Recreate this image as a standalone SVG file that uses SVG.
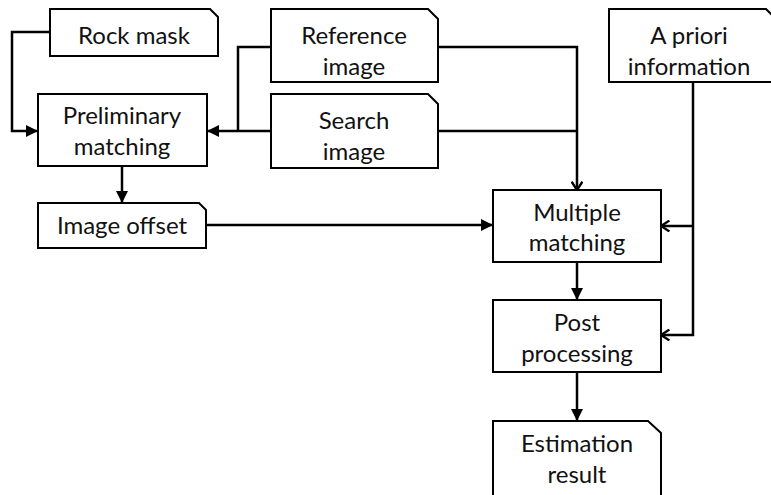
<svg xmlns="http://www.w3.org/2000/svg" width="771" height="495" viewBox="0 0 771 495">
<style>
.box{fill:#fff;stroke:#000;stroke-width:2}
.t{font-family:Lato,"Liberation Sans",sans-serif;font-size:24px;fill:#111;text-anchor:middle}
.c{fill:none;stroke:#000;stroke-width:2.5}
</style>
<defs>
<marker id="fa" viewBox="0 0 10 10" refX="10" refY="5" markerWidth="12" markerHeight="12" markerUnits="userSpaceOnUse" orient="auto"><path d="M0,0L10,5L0,10Z" fill="#000"/></marker>
<marker id="oa" viewBox="0 0 10 10" refX="9" refY="5" markerWidth="12" markerHeight="12" markerUnits="userSpaceOnUse" orient="auto"><path d="M2,0.5L9,5L2,9.5" fill="none" stroke="#000" stroke-width="2"/></marker>
</defs>
<rect width="771" height="495" fill="#fff"/>
<g id="connectors">
<path class="c" d="M50,32H12V131H38" marker-end="url(#fa)"/>
<path class="c" d="M271,47H238V131"/>
<path class="c" d="M271,131H207" marker-end="url(#fa)"/>
<path class="c" d="M122,166V203" marker-end="url(#fa)"/>
<path class="c" d="M206,225H493" marker-end="url(#fa)"/>
<path class="c" d="M438,47H577V190" marker-end="url(#oa)"/>
<path class="c" d="M438,131H577"/>
<path class="c" d="M693,82V335H661" marker-end="url(#oa)"/>
<path class="c" d="M693,226H661" marker-end="url(#oa)"/>
<path class="c" d="M577,262V300" marker-end="url(#fa)"/>
<path class="c" d="M577,372V421" marker-end="url(#fa)"/>
</g>
<g id="rock-mask"><path class="box" d="M50,9H210L218,17V56H50Z"/><text class="t" x="134" y="44">Rock mask</text></g>
<g id="reference-image"><path class="box" d="M271,9H428L438,19V82H271Z"/><text class="t" x="354" y="44">Reference</text><text class="t" x="354" y="75">image</text></g>
<g id="search-image"><path class="box" d="M271,94H428L438,104V168H271Z"/><text class="t" x="354" y="129">Search</text><text class="t" x="354" y="160">image</text></g>
<g id="a-priori"><path class="box" d="M609,9H766L772,15V82H609Z"/><text class="t" x="689" y="44">A priori</text><text class="t" x="689" y="75">information</text></g>
<g id="preliminary-matching"><rect class="box" x="38" y="94" width="169" height="72"/><text class="t" x="122" y="124">Preliminary</text><text class="t" x="122" y="155">matching</text></g>
<g id="image-offset"><path class="box" d="M38,203H199L206,210V248H38Z"/><text class="t" x="122" y="234">Image offset</text></g>
<g id="multiple-matching"><rect class="box" x="493" y="190" width="168" height="72"/><text class="t" x="577" y="221">Multiple</text><text class="t" x="577" y="251">matching</text></g>
<g id="post-processing"><rect class="box" x="493" y="300" width="168" height="72"/><text class="t" x="577" y="331">Post</text><text class="t" x="577" y="362">processing</text></g>
<g id="estimation-result"><path class="box" d="M493,421H648L661,433V500H493Z"/><text class="t" x="577" y="452">Estimation</text><text class="t" x="577" y="483">result</text></g>
</svg>
